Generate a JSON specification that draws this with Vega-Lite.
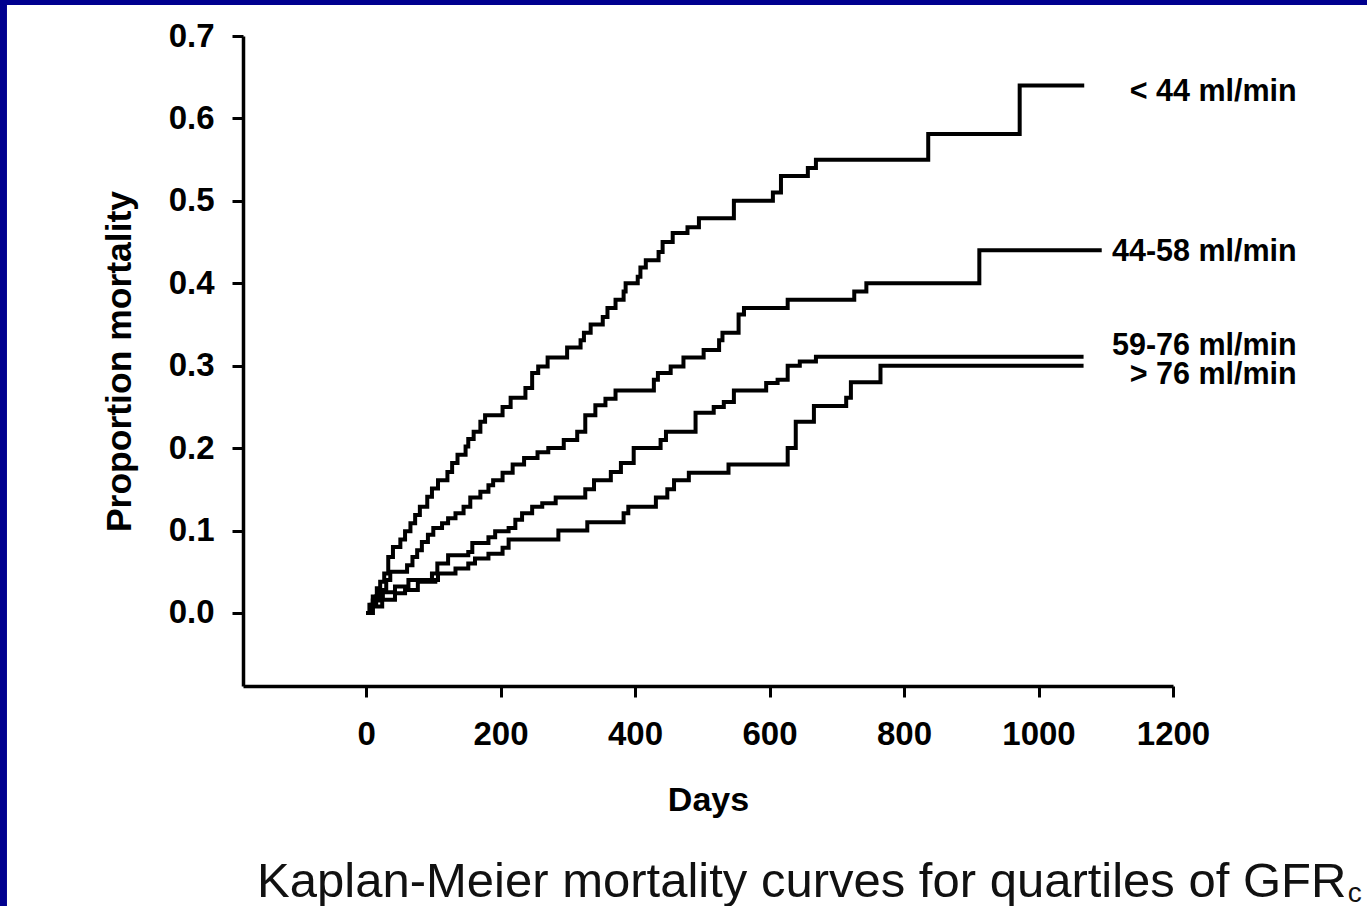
{
  "$schema": "https://vega.github.io/schema/vega-lite/v6.json",
  "width": 930,
  "height": 650,
  "autosize": {"type": "none"},
  "padding": {"left": 243, "top": 36, "right": 194, "bottom": 220},
  "background": "#00008f",
  "config": {"view": {"stroke": null}, "font": "Liberation Sans"},
  "datasets": {
    "curves": [
      {"g": "< 44 ml/min", "day": 0, "p": 0},
      {"g": "< 44 ml/min", "day": 5, "p": 0.01},
      {"g": "< 44 ml/min", "day": 10, "p": 0.02},
      {"g": "< 44 ml/min", "day": 16, "p": 0.03},
      {"g": "< 44 ml/min", "day": 21, "p": 0.038},
      {"g": "< 44 ml/min", "day": 27, "p": 0.048},
      {"g": "< 44 ml/min", "day": 33, "p": 0.068},
      {"g": "< 44 ml/min", "day": 40, "p": 0.08},
      {"g": "< 44 ml/min", "day": 51, "p": 0.089},
      {"g": "< 44 ml/min", "day": 58, "p": 0.099},
      {"g": "< 44 ml/min", "day": 66, "p": 0.109},
      {"g": "< 44 ml/min", "day": 73, "p": 0.119},
      {"g": "< 44 ml/min", "day": 80, "p": 0.129},
      {"g": "< 44 ml/min", "day": 91, "p": 0.141},
      {"g": "< 44 ml/min", "day": 98, "p": 0.151},
      {"g": "< 44 ml/min", "day": 107, "p": 0.161},
      {"g": "< 44 ml/min", "day": 121, "p": 0.171},
      {"g": "< 44 ml/min", "day": 128, "p": 0.182},
      {"g": "< 44 ml/min", "day": 136, "p": 0.192},
      {"g": "< 44 ml/min", "day": 148, "p": 0.202},
      {"g": "< 44 ml/min", "day": 152, "p": 0.211},
      {"g": "< 44 ml/min", "day": 160, "p": 0.22},
      {"g": "< 44 ml/min", "day": 170, "p": 0.232},
      {"g": "< 44 ml/min", "day": 177, "p": 0.24},
      {"g": "< 44 ml/min", "day": 203, "p": 0.25},
      {"g": "< 44 ml/min", "day": 215, "p": 0.261},
      {"g": "< 44 ml/min", "day": 237, "p": 0.273},
      {"g": "< 44 ml/min", "day": 247, "p": 0.291},
      {"g": "< 44 ml/min", "day": 256, "p": 0.299},
      {"g": "< 44 ml/min", "day": 270, "p": 0.31},
      {"g": "< 44 ml/min", "day": 299, "p": 0.322},
      {"g": "< 44 ml/min", "day": 319, "p": 0.331},
      {"g": "< 44 ml/min", "day": 324, "p": 0.34},
      {"g": "< 44 ml/min", "day": 334, "p": 0.35},
      {"g": "< 44 ml/min", "day": 352, "p": 0.359},
      {"g": "< 44 ml/min", "day": 359, "p": 0.37},
      {"g": "< 44 ml/min", "day": 371, "p": 0.38},
      {"g": "< 44 ml/min", "day": 383, "p": 0.39},
      {"g": "< 44 ml/min", "day": 386, "p": 0.4},
      {"g": "< 44 ml/min", "day": 404, "p": 0.408},
      {"g": "< 44 ml/min", "day": 408, "p": 0.419},
      {"g": "< 44 ml/min", "day": 416, "p": 0.428},
      {"g": "< 44 ml/min", "day": 435, "p": 0.438},
      {"g": "< 44 ml/min", "day": 441, "p": 0.45},
      {"g": "< 44 ml/min", "day": 456, "p": 0.461},
      {"g": "< 44 ml/min", "day": 478, "p": 0.468},
      {"g": "< 44 ml/min", "day": 495, "p": 0.479},
      {"g": "< 44 ml/min", "day": 547, "p": 0.5},
      {"g": "< 44 ml/min", "day": 605, "p": 0.51},
      {"g": "< 44 ml/min", "day": 617, "p": 0.53},
      {"g": "< 44 ml/min", "day": 657, "p": 0.54},
      {"g": "< 44 ml/min", "day": 669, "p": 0.55},
      {"g": "< 44 ml/min", "day": 836, "p": 0.581},
      {"g": "< 44 ml/min", "day": 972, "p": 0.64},
      {"g": "< 44 ml/min", "day": 1068, "p": 0.64},
      {"g": "44-58 ml/min", "day": 0, "p": 0},
      {"g": "44-58 ml/min", "day": 10, "p": 0.015},
      {"g": "44-58 ml/min", "day": 20, "p": 0.028},
      {"g": "44-58 ml/min", "day": 30, "p": 0.04},
      {"g": "44-58 ml/min", "day": 36, "p": 0.05},
      {"g": "44-58 ml/min", "day": 61, "p": 0.058},
      {"g": "44-58 ml/min", "day": 69, "p": 0.068},
      {"g": "44-58 ml/min", "day": 76, "p": 0.076},
      {"g": "44-58 ml/min", "day": 83, "p": 0.086},
      {"g": "44-58 ml/min", "day": 92, "p": 0.095},
      {"g": "44-58 ml/min", "day": 100, "p": 0.103},
      {"g": "44-58 ml/min", "day": 113, "p": 0.109},
      {"g": "44-58 ml/min", "day": 122, "p": 0.115},
      {"g": "44-58 ml/min", "day": 133, "p": 0.121},
      {"g": "44-58 ml/min", "day": 145, "p": 0.129},
      {"g": "44-58 ml/min", "day": 155, "p": 0.14},
      {"g": "44-58 ml/min", "day": 170, "p": 0.147},
      {"g": "44-58 ml/min", "day": 182, "p": 0.155},
      {"g": "44-58 ml/min", "day": 189, "p": 0.161},
      {"g": "44-58 ml/min", "day": 203, "p": 0.17},
      {"g": "44-58 ml/min", "day": 218, "p": 0.18},
      {"g": "44-58 ml/min", "day": 235, "p": 0.188},
      {"g": "44-58 ml/min", "day": 255, "p": 0.195},
      {"g": "44-58 ml/min", "day": 271, "p": 0.2},
      {"g": "44-58 ml/min", "day": 294, "p": 0.21},
      {"g": "44-58 ml/min", "day": 314, "p": 0.22},
      {"g": "44-58 ml/min", "day": 326, "p": 0.24},
      {"g": "44-58 ml/min", "day": 341, "p": 0.252},
      {"g": "44-58 ml/min", "day": 356, "p": 0.26},
      {"g": "44-58 ml/min", "day": 371, "p": 0.27},
      {"g": "44-58 ml/min", "day": 428, "p": 0.283},
      {"g": "44-58 ml/min", "day": 434, "p": 0.291},
      {"g": "44-58 ml/min", "day": 453, "p": 0.299},
      {"g": "44-58 ml/min", "day": 472, "p": 0.31},
      {"g": "44-58 ml/min", "day": 502, "p": 0.319},
      {"g": "44-58 ml/min", "day": 525, "p": 0.331},
      {"g": "44-58 ml/min", "day": 530, "p": 0.34},
      {"g": "44-58 ml/min", "day": 554, "p": 0.362},
      {"g": "44-58 ml/min", "day": 562, "p": 0.37},
      {"g": "44-58 ml/min", "day": 627, "p": 0.38},
      {"g": "44-58 ml/min", "day": 726, "p": 0.39},
      {"g": "44-58 ml/min", "day": 744, "p": 0.4},
      {"g": "44-58 ml/min", "day": 912, "p": 0.44},
      {"g": "44-58 ml/min", "day": 1094, "p": 0.44},
      {"g": "59-76 ml/min", "day": 0, "p": 0},
      {"g": "59-76 ml/min", "day": 8, "p": 0.01},
      {"g": "59-76 ml/min", "day": 15, "p": 0.02},
      {"g": "59-76 ml/min", "day": 25, "p": 0.025},
      {"g": "59-76 ml/min", "day": 43, "p": 0.032},
      {"g": "59-76 ml/min", "day": 63, "p": 0.04},
      {"g": "59-76 ml/min", "day": 98, "p": 0.048},
      {"g": "59-76 ml/min", "day": 106, "p": 0.06},
      {"g": "59-76 ml/min", "day": 122, "p": 0.07},
      {"g": "59-76 ml/min", "day": 152, "p": 0.074},
      {"g": "59-76 ml/min", "day": 158, "p": 0.085},
      {"g": "59-76 ml/min", "day": 182, "p": 0.092},
      {"g": "59-76 ml/min", "day": 192, "p": 0.099},
      {"g": "59-76 ml/min", "day": 212, "p": 0.103},
      {"g": "59-76 ml/min", "day": 222, "p": 0.113},
      {"g": "59-76 ml/min", "day": 232, "p": 0.121},
      {"g": "59-76 ml/min", "day": 247, "p": 0.129},
      {"g": "59-76 ml/min", "day": 262, "p": 0.133},
      {"g": "59-76 ml/min", "day": 282, "p": 0.14},
      {"g": "59-76 ml/min", "day": 326, "p": 0.15},
      {"g": "59-76 ml/min", "day": 339, "p": 0.161},
      {"g": "59-76 ml/min", "day": 364, "p": 0.171},
      {"g": "59-76 ml/min", "day": 379, "p": 0.182},
      {"g": "59-76 ml/min", "day": 398, "p": 0.2},
      {"g": "59-76 ml/min", "day": 438, "p": 0.21},
      {"g": "59-76 ml/min", "day": 446, "p": 0.22},
      {"g": "59-76 ml/min", "day": 490, "p": 0.243},
      {"g": "59-76 ml/min", "day": 517, "p": 0.25},
      {"g": "59-76 ml/min", "day": 532, "p": 0.256},
      {"g": "59-76 ml/min", "day": 547, "p": 0.27},
      {"g": "59-76 ml/min", "day": 595, "p": 0.279},
      {"g": "59-76 ml/min", "day": 612, "p": 0.283},
      {"g": "59-76 ml/min", "day": 627, "p": 0.3},
      {"g": "59-76 ml/min", "day": 645, "p": 0.305},
      {"g": "59-76 ml/min", "day": 669, "p": 0.311},
      {"g": "59-76 ml/min", "day": 1067, "p": 0.311},
      {"g": "> 76 ml/min", "day": 0, "p": 0},
      {"g": "> 76 ml/min", "day": 10, "p": 0.008},
      {"g": "> 76 ml/min", "day": 24, "p": 0.016},
      {"g": "> 76 ml/min", "day": 43, "p": 0.024},
      {"g": "> 76 ml/min", "day": 58, "p": 0.028},
      {"g": "> 76 ml/min", "day": 77, "p": 0.038},
      {"g": "> 76 ml/min", "day": 103, "p": 0.04},
      {"g": "> 76 ml/min", "day": 107, "p": 0.048},
      {"g": "> 76 ml/min", "day": 133, "p": 0.054},
      {"g": "> 76 ml/min", "day": 152, "p": 0.06},
      {"g": "> 76 ml/min", "day": 162, "p": 0.066},
      {"g": "> 76 ml/min", "day": 182, "p": 0.072},
      {"g": "> 76 ml/min", "day": 203, "p": 0.079},
      {"g": "> 76 ml/min", "day": 212, "p": 0.089},
      {"g": "> 76 ml/min", "day": 286, "p": 0.1},
      {"g": "> 76 ml/min", "day": 329, "p": 0.11},
      {"g": "> 76 ml/min", "day": 383, "p": 0.121},
      {"g": "> 76 ml/min", "day": 390, "p": 0.129},
      {"g": "> 76 ml/min", "day": 431, "p": 0.14},
      {"g": "> 76 ml/min", "day": 448, "p": 0.15},
      {"g": "> 76 ml/min", "day": 458, "p": 0.161},
      {"g": "> 76 ml/min", "day": 480, "p": 0.17},
      {"g": "> 76 ml/min", "day": 539, "p": 0.18},
      {"g": "> 76 ml/min", "day": 627, "p": 0.2},
      {"g": "> 76 ml/min", "day": 639, "p": 0.232},
      {"g": "> 76 ml/min", "day": 666, "p": 0.251},
      {"g": "> 76 ml/min", "day": 714, "p": 0.261},
      {"g": "> 76 ml/min", "day": 721, "p": 0.28},
      {"g": "> 76 ml/min", "day": 765, "p": 0.3},
      {"g": "> 76 ml/min", "day": 1067, "p": 0.3}
    ],
    "labels": [
      {"g": "< 44 ml/min", "ly": 0.632},
      {"g": "44-58 ml/min", "ly": 0.438},
      {"g": "59-76 ml/min", "ly": 0.324},
      {"g": "> 76 ml/min", "ly": 0.289}
    ],
    "caption": [
      {"t": "Kaplan-Meier mortality curves for quartiles of GFR"}
    ],
    "sub": [{"t": "c"}]
  },
  "encoding": {
    "x": {
      "type": "quantitative",
      "scale": {"domain": [-183, 1200], "nice": false, "zero": false},
      "axis": {
        "title": "Days",
        "zindex": 2,
        "values": [0, 200, 400, 600, 800, 1000, 1200],
        "format": "d",
        "grid": false,
        "labelFlush": false,
        "labelOverlap": false,
        "labelFontSize": 33,
        "labelFontWeight": "bold",
        "labelColor": "black",
        "labelPadding": 21,
        "tickColor": "black",
        "tickWidth": 3,
        "tickSize": 11,
        "domainColor": "black",
        "domainWidth": 3.5,
        "titleFontSize": 34,
        "titleFontWeight": "bold",
        "titleColor": "black",
        "titlePadding": 32
      }
    },
    "y": {
      "type": "quantitative",
      "scale": {"domain": [-0.0886, 0.7], "nice": false, "zero": false},
      "axis": {
        "title": "Proportion mortality",
        "zindex": 2,
        "values": [0, 0.1, 0.2, 0.3, 0.4, 0.5, 0.6, 0.7],
        "format": ".1f",
        "grid": false,
        "labelFlush": false,
        "labelOverlap": false,
        "labelFontSize": 33,
        "labelFontWeight": "bold",
        "labelColor": "black",
        "labelPadding": 18,
        "tickColor": "black",
        "tickWidth": 3,
        "tickSize": 11,
        "domainColor": "black",
        "domainWidth": 3.5,
        "titleFontSize": 35.5,
        "titleFontWeight": "bold",
        "titleColor": "black",
        "titlePadding": 31
      }
    }
  },
  "layer": [
    {
      "data": {"name": "sub"},
      "mark": {"type": "rect", "fill": "white", "clip": false},
      "encoding": {
        "x": {"datum": -534},
        "x2": {"datum": 1800},
        "y": {"datum": 0.7376},
        "y2": {"datum": -0.6}
      }
    },
    {
      "data": {"name": "curves"},
      "mark": {"type": "line", "interpolate": "step-after", "color": "black", "strokeWidth": 4, "clip": false},
      "encoding": {
        "x": {"field": "day"},
        "y": {"field": "p"},
        "detail": {"field": "g"}
      }
    },
    {
      "data": {"name": "labels"},
      "mark": {"type": "text", "align": "right", "baseline": "middle", "fontSize": 30.5, "fontWeight": "bold", "color": "black", "clip": false},
      "encoding": {
        "x": {"datum": 1384},
        "y": {"field": "ly"},
        "text": {"field": "g"}
      }
    },
    {
      "data": {"name": "caption"},
      "mark": {"type": "text", "align": "left", "baseline": "alphabetic", "fontSize": 49, "fontWeight": "normal", "color": "#111111", "clip": false},
      "encoding": {
        "x": {"datum": -162},
        "y": {"datum": -0.3445},
        "text": {"field": "t"}
      }
    },
    {
      "data": {"name": "sub"},
      "mark": {"type": "text", "align": "left", "baseline": "alphabetic", "fontSize": 28, "color": "#111111", "clip": false},
      "encoding": {
        "x": {"datum": 1460},
        "y": {"datum": -0.351},
        "text": {"field": "t"}
      }
    }
  ]
}
